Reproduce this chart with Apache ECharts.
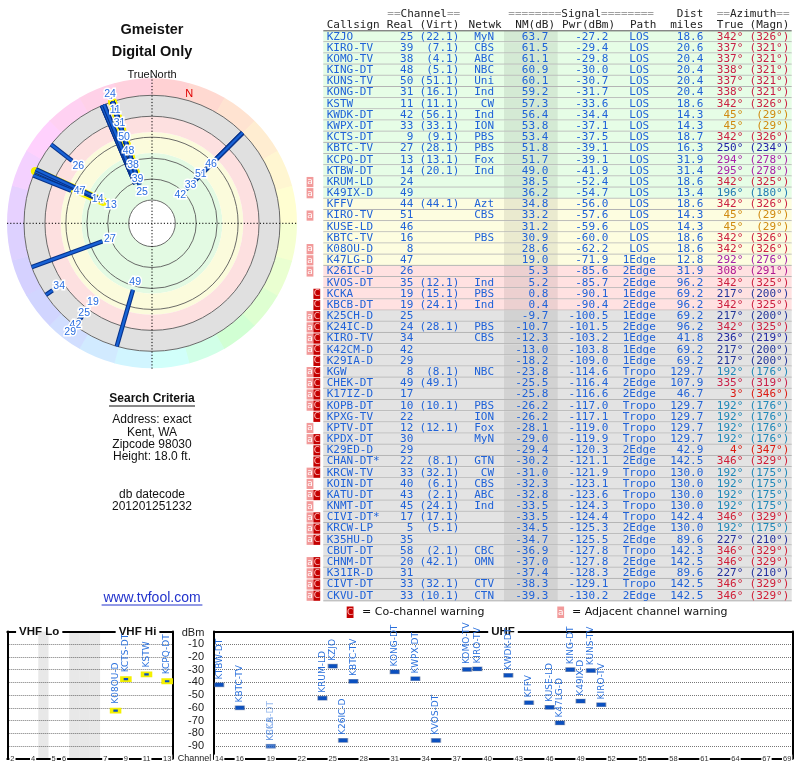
<!DOCTYPE html>
<html><head><meta charset="utf-8">
<script src="https://cdn.jsdelivr.net/npm/echarts/dist/echarts.min.js"></script>
<style>html,body{margin:0;padding:0;background:#fff}#c{width:800px;height:768px}</style>
</head><body><div id="c"></div>
<script>
// ---------------- DATA ----------------
const callsigns = ['KZJO','KIRO-TV','KOMO-TV','KING-DT','KUNS-TV','KONG-DT','KSTW','KWDK-DT','KWPX-DT','KCTS-DT','KBTC-TV','KCPQ-DT','KTBW-DT','KRUM-LD','K49IX-D','KFFV','KIRO-TV','KUSE-LD','KBTC-TV','K08OU-D','K47LG-D','K26IC-D','KVOS-DT','KCKA','KBCB-DT','K25CH-D','K24IC-D','KIRO-TV','K42CM-D','K29IA-D','KGW','CHEK-DT','K17IZ-D','KOPB-DT','KPXG-TV','KPTV-DT','KPDX-DT','K29ED-D','CHAN-DT*','KRCW-TV','KOIN-DT','KATU-DT','KNMT-DT','CIVI-DT*','KRCW-LP','K35HU-D','CBUT-DT','CHNM-DT','K31IR-D','CIVT-DT','CKVU-DT'];
const realCh = [25,39,38,48,50,31,11,42,33,9,27,13,14,24,49,44,51,46,16,8,47,26,35,19,19,25,24,34,42,29,8,49,17,10,22,12,30,29,22,33,40,43,45,17,5,35,58,20,31,33,33];
const virtCh = ['22.1','7.1','4.1','5.1','51.1','16.1','11.1','56.1','33.1','9.1','28.1','13.1','20.1','','','44.1','','','','','','','12.1','15.1','24.1','','28.1','','','','8.1','49.1','','10.1','','12.1','','','8.1','32.1','6.1','2.1','24.1','17.1','5.1','','2.1','42.1','','32.1','10.1'];
const networks = ['MyN','CBS','ABC','NBC','Uni','Ind','CW','Ind','ION','PBS','PBS','Fox','Ind','','','Azt','CBS','','PBS','','','','Ind','PBS','Ind','','PBS','CBS','','','NBC','','','PBS','ION','Fox','MyN','','GTN','CW','CBS','ABC','Ind','','','','CBC','OMN','','CTV','CTN'];
const nmDb = [63.7,61.5,61.1,60.9,60.1,59.2,57.3,56.4,53.8,53.4,51.8,51.7,49.0,38.5,36.2,34.8,33.2,31.2,30.9,28.6,19.0,5.3,5.2,0.8,0.4,-9.7,-10.7,-12.3,-13.0,-18.2,-23.8,-25.5,-25.8,-26.2,-26.2,-28.1,-29.0,-29.4,-30.2,-31.0,-32.3,-32.8,-33.5,-33.5,-34.5,-34.7,-36.9,-37.0,-37.4,-38.3,-39.3];
const pwrDbm = [-27.2,-29.4,-29.8,-30.0,-30.7,-31.7,-33.6,-34.4,-37.1,-37.5,-39.1,-39.1,-41.9,-52.4,-54.7,-56.0,-57.6,-59.6,-60.0,-62.2,-71.9,-85.6,-85.7,-90.1,-90.4,-100.5,-101.5,-103.2,-103.8,-109.0,-114.6,-116.4,-116.6,-117.0,-117.1,-119.0,-119.9,-120.3,-121.1,-121.9,-123.1,-123.6,-124.3,-124.4,-125.3,-125.5,-127.8,-127.8,-128.3,-129.1,-130.2];
const paths = ['LOS','LOS','LOS','LOS','LOS','LOS','LOS','LOS','LOS','LOS','LOS','LOS','LOS','LOS','LOS','LOS','LOS','LOS','LOS','LOS','1Edge','2Edge','2Edge','1Edge','2Edge','1Edge','2Edge','1Edge','1Edge','1Edge','Tropo','2Edge','2Edge','Tropo','Tropo','Tropo','Tropo','2Edge','2Edge','Tropo','Tropo','Tropo','Tropo','Tropo','2Edge','2Edge','Tropo','2Edge','2Edge','Tropo','2Edge'];
const distMiles = [18.6,20.6,20.4,20.4,20.4,20.4,18.6,14.3,14.3,18.7,16.3,31.9,31.4,18.6,13.4,18.6,14.3,14.3,18.6,18.6,12.8,31.9,96.2,69.2,96.2,69.2,96.2,41.8,69.2,69.2,129.7,107.9,46.7,129.7,129.7,129.7,129.7,42.9,142.5,130.0,130.0,130.0,130.0,142.4,130.0,89.6,142.3,142.5,89.6,142.5,142.5];
const azTrue = [342,337,337,338,337,338,342,45,45,342,250,294,295,342,196,342,45,45,342,342,292,308,342,217,342,217,342,236,217,217,192,335,3,192,192,192,192,4,346,192,192,192,192,346,192,227,346,346,227,346,346];
const azMagn = [326,321,321,321,321,321,326,29,29,326,234,278,278,325,180,326,29,29,326,326,276,291,325,200,325,200,325,219,200,200,176,319,346,176,176,176,176,347,329,175,175,175,175,329,175,210,329,329,210,329,329];
const warnings = ['','','','','','','','','','','','','','a','a','','a','','','a','a','a','','c','c','ac','ac','ac','ac','c','ac','ac','ac','ac','c','a','ac','c','c','ac','a','ac','a','ac','ac','ac','','ac','ac','ac','ac'];

const vhfSlots = ['2','3','4','g1','5','6','g2','g3','g4','7','8','9','10','11','12','13'];
const vhfGapSlots = ['g1','g2','g3','g4'];
const vhfTickLabels = ['2','4','5','6','7','9','11','13'];
const uhfChannels = ['14','15','16','17','18','19','20','21','22','23','24','25','26','27','28','29','30','31','32','33','34','35','36','37','38','39','40','41','42','43','44','45','46','47','48','49','50','51','52','53','54','55','56','57','58','59','60','61','62','63','64','65','66','67','68','69'];
const uhfTickLabels = ['14','16','19','22','25','28','31','34','37','40','43','46','49','52','55','58','61','64','67','69'];
const dbmTicks = [-10,-20,-30,-40,-50,-60,-70,-80,-90];
const radiusRings = [-20,0,20,40,60,80];
const nmBands = [[80,35,'#e3fae3'],[35,15,'#fbfbdc'],[15,0,'#fde0e0'],[0,-20,'#e0e0e0']];
const magneticNorth = 16;

// ---------------- HELPERS ----------------
const MONO = '11px "DejaVu Sans Mono", monospace';
const SANS = '"Liberation Sans", Arial, sans-serif';
const BLUE = '#1f62d8';
function lerpStops(stops, a) {
  for (let k = 0; k < stops.length - 1; k++) {
    const s0 = stops[k], s1 = stops[k + 1];
    if (a >= s0[0] && a <= s1[0]) { const t = (a - s0[0]) / (s1[0] - s0[0]); return s0[1] + (s1[1] - s0[1]) * t; }
  }
  return stops[stops.length - 1][1];
}
const ringHueStops = [[0,350],[45,390],[90,425],[135,470],[180,545],[225,590],[270,620],[315,670],[360,710]];
function ringColor(az) { return 'hsl(' + Math.round(lerpStops(ringHueStops, az) % 360) + ',100%,91%)'; }
const textColorStops = [[0,'#dd1111'],[45,'#d08a10'],[192,'#1f88b8'],[217,'#23369a'],[250,'#2222a8'],[294,'#aa22aa'],[308,'#b01a90'],[335,'#c8204a'],[342,'#cc2040'],[360,'#dd1111']];
function hex2rgb(h) { return [parseInt(h.substr(1,2),16), parseInt(h.substr(3,2),16), parseInt(h.substr(5,2),16)]; }
function azColor(az) {
  for (let k = 0; k < textColorStops.length - 1; k++) {
    const s0 = textColorStops[k], s1 = textColorStops[k + 1];
    if (az >= s0[0] && az <= s1[0]) {
      const t = (az - s0[0]) / (s1[0] - s0[0]); const a = hex2rgb(s0[1]), b = hex2rgb(s1[1]);
      return 'rgb(' + a.map((v, j) => Math.round(v + (b[j] - v) * t)).join(',') + ')';
    }
  }
  return '#cc2040';
}
function angDiff(a, b) { let d = Math.abs(a - b) % 360; return d > 180 ? 360 - d : d; }
function txt(text, x, y, font, fill, align, extra) {
  return Object.assign({ type: 'text', style: Object.assign({ text: text, x: x, y: y, font: font, fill: fill,
    align: align, textAlign: align, verticalAlign: 'middle', textVerticalAlign: 'middle' }, extra || {}) });
}

const polarRows = callsigns.map((_, i) => i).filter(i => nmDb[i] > -20);
const bottomRows = callsigns.map((_, i) => i).filter(i => nmDb[i] >= 0);

// ---------------- TABLE ----------------
function renderTable(params, api) {
  const i = api.value(1);
  const c = api.coord([0, i]);
  const h = api.size([0, 1])[1];
  const yc = c[1], top = yc - h / 2;
  const x0 = params.coordSys.x;
  const nm = nmDb[i];
  let bg = '#e3e3e3';
  if (nm > 35) bg = '#e6fde6'; else if (nm > 15) bg = '#fdfde0'; else if (nm > 0) bg = '#ffe1e1';
  const ch = [
    { type: 'rect', shape: { x: x0 + 23.3, y: top, width: 468.4, height: h }, style: { fill: bg } },
    { type: 'rect', shape: { x: x0 + 204, y: top, width: 53.7, height: h }, style: { fill: 'rgba(0,0,0,0.075)' } },
    { type: 'line', shape: { x1: x0 + 23.3, y1: top + h - 0.5, x2: x0 + 491.7, y2: top + h - 0.5 }, style: { stroke: '#b4b4b4', lineWidth: 1 } },
    txt(callsigns[i], x0 + 26.7, yc, MONO, BLUE, 'left'),
    txt(String(realCh[i]), x0 + 113.3, yc, MONO, BLUE, 'right'),
    txt(virtCh[i] ? '(' + virtCh[i] + ')' : '', x0 + 159.3, yc, MONO, BLUE, 'right'),
    txt(networks[i], x0 + 194, yc, MONO, BLUE, 'right'),
    txt(nmDb[i].toFixed(1), x0 + 248.3, yc, MONO, BLUE, 'right'),
    txt(pwrDbm[i].toFixed(1), x0 + 308.3, yc, MONO, BLUE, 'right'),
    txt(paths[i], x0 + 339.3, yc, MONO, BLUE, 'center'),
    txt(distMiles[i].toFixed(1), x0 + 403.3, yc, MONO, BLUE, 'right'),
    txt(azTrue[i] + '°', x0 + 443.3, yc, MONO, azColor(azTrue[i]), 'right'),
    txt('(' + azMagn[i] + '°)', x0 + 489.3, yc, MONO, azColor(azTrue[i]), 'right')
  ];
  const w = warnings[i];
  if (w.indexOf('a') >= 0) {
    ch.push({ type: 'rect', shape: { x: x0 + 6.6, y: top + 0.5, width: 6.8, height: h - 1 }, style: { fill: '#f29a9a' } });
    ch.push(txt('a', x0 + 10, yc, '9px "DejaVu Sans"', '#fff', 'center'));
  }
  if (w.indexOf('c') >= 0) {
    ch.push({ type: 'rect', shape: { x: x0 + 13.4, y: top + 0.5, width: 6.8, height: h - 1 }, style: { fill: '#c40000' } });
    ch.push(txt('C', x0 + 16.8, yc, '9px "DejaVu Sans"', '#ffb8b8', 'center'));
  }
  return { type: 'group', children: ch };
}

// ---------------- POLAR ----------------
function radPx(api, cx, cy, nm, az) { const p = api.coord([nm, az]); return Math.hypot(p[0] - cx, p[1] - cy); }
function renderPolarBg(params, api) {
  const cx = params.coordSys.cx, cy = params.coordSys.cy;
  const ch = [];
  const rOuter = radPx(api, cx, cy, -20, 0);
  for (let k = 0; k < 24; k++) {
    const a0 = k * 15, a1 = a0 + 15;
    ch.push({ type: 'sector', shape: { cx: cx, cy: cy, r0: rOuter, r: 145, startAngle: (a0 - 90) * Math.PI / 180, endAngle: (a1 - 90) * Math.PI / 180 + 0.004, clockwise: true },
      style: { fill: ringColor(a0 + 7.5) } });
  }
  nmBands.forEach(b => {
    ch.push({ type: 'ring', shape: { cx: cx, cy: cy, r0: radPx(api, cx, cy, b[0], 0), r: radPx(api, cx, cy, b[1], 0) }, style: { fill: b[2] } });
  });
  radiusRings.forEach(v => {
    ch.push({ type: 'circle', shape: { cx: cx, cy: cy, r: radPx(api, cx, cy, v, 0) }, style: { fill: 'none', stroke: '#5a5a5a', lineWidth: 0.9 } });
  });
  ch.push({ type: 'line', shape: { x1: cx - 145, y1: cy, x2: cx + 145, y2: cy }, style: { stroke: '#000', lineWidth: 1, lineDash: [1.2, 2] } });
  ch.push({ type: 'line', shape: { x1: cx, y1: cy - 147, x2: cx, y2: cy + 146 }, style: { stroke: '#000', lineWidth: 1, lineDash: [1.2, 2] } });
  const mr = magneticNorth * Math.PI / 180;
  ch.push(txt('N', cx + 135 * Math.sin(mr), cy - 135 * Math.cos(mr), '11px ' + SANS, '#e00000', 'center'));
  return { type: 'group', children: ch };
}
function renderYellow(params, api) {
  const row = polarRows[params.dataIndex];
  if (realCh[row] > 13) return null;
  const p0 = api.coord([-20, azTrue[row]]), p1 = api.coord([nmDb[row], azTrue[row]]);
  return { type: 'line', shape: { x1: p0[0], y1: p0[1], x2: p1[0], y2: p1[1] }, style: { stroke: '#f6f200', lineWidth: 8.5, lineCap: 'round' } };
}
function renderLine(params, api) {
  const row = polarRows[params.dataIndex];
  const p0 = api.coord([-20, azTrue[row]]), p1 = api.coord([nmDb[row], azTrue[row]]);
  return { type: 'group', children: [
    { type: 'line', shape: { x1: p0[0], y1: p0[1], x2: p1[0], y2: p1[1] }, style: { stroke: '#07328a', lineWidth: 4.5 } },
    { type: 'line', shape: { x1: p0[0], y1: p0[1], x2: p1[0], y2: p1[1] }, style: { stroke: '#1862d6', lineWidth: 2.3 } }
  ] };
}
function polarLayout(api, cx, cy) {
  const groups = [];
  polarRows.forEach(i => {
    let g = groups.find(gr => angDiff(gr.az, azTrue[i]) <= 6);
    if (!g) { g = { az: azTrue[i], items: [] }; groups.push(g); }
    g.items.push(i);
  });
  const out = {};
  groups.forEach(g => {
    let prev = -Infinity;
    const rad = g.az * Math.PI / 180;
    g.items.forEach(i => {
      if (prev >= 135) return;
      const rEnd = radPx(api, cx, cy, nmDb[i], g.az);
      let r = Math.max(prev + 14.5, rEnd - 8);
      r = Math.min(r, 136);
      prev = r;
      out[i] = [cx + r * Math.sin(rad), cy - r * Math.cos(rad)];
    });
  });
  return out;
}
function renderLabel(params, api) {
  const cx = params.coordSys.cx, cy = params.coordSys.cy;
  const row = polarRows[params.dataIndex];
  const p = polarLayout(api, cx, cy)[row];
  if (!p) return null;
  return txt(String(realCh[row]), p[0], p[1], '10.5px ' + SANS, '#2a6ee0', 'center', { stroke: '#fff', lineWidth: 3 });
}

// ---------------- BOTTOM SCATTER ----------------
function stationItem(i, slots) {
  const faded = nmDb[i] < 1;
  return { name: callsigns[i], value: [slots.indexOf(String(realCh[i])), pwrDbm[i]],
    itemStyle: { opacity: faded ? 0.5 : 1 }, label: { opacity: faded ? 0.5 : 1 } };
}
const vhfData = bottomRows.filter(i => realCh[i] <= 13).map(i => stationItem(i, vhfSlots));
const uhfData = bottomRows.filter(i => realCh[i] >= 14).map(i => stationItem(i, uhfChannels));
const stationLabel = { show: true, formatter: '{b}', position: 'top', distance: 3, rotate: 90, align: 'left', verticalAlign: 'middle',
  fontSize: 9, color: '#2a70dc', fontFamily: '"DejaVu Sans", sans-serif' };

function bottomX(grid, data, tickList, pos) {
  const base = { gridIndex: grid, type: 'category', data: data, position: pos,
    axisLine: { show: true, onZero: false, lineStyle: { color: '#000', width: 2 } }, axisTick: { show: false }, splitLine: { show: false } };
  if (pos === 'bottom') {
    base.axisLabel = { show: true, interval: (idx, val) => tickList.indexOf(val) >= 0, margin: -4, fontSize: 7.5, color: '#333',
      backgroundColor: '#fff', padding: [0, 1], fontFamily: SANS };
  } else base.axisLabel = { show: false };
  return base;
}
function bottomY(grid, pos, labels) {
  return { gridIndex: grid, type: 'value', min: -100, max: 0, interval: 10, position: pos,
    axisLine: { show: true, onZero: false, lineStyle: { color: '#000', width: 2 } }, axisTick: { show: false },
    splitLine: { show: pos === 'left', lineStyle: { color: '#777', type: 'dotted', width: 1 } },
    axisLabel: labels ? { show: true, margin: 10, fontSize: 11, color: '#222', fontFamily: SANS,
      formatter: v => (dbmTicks.indexOf(v) >= 0 ? String(v) : '') } : { show: false } };
}

const hdrRich = { g: { fill: '#a0a0a0', font: MONO }, w: { fill: '#222', font: MONO } };
function hdr(text, x, y, align) {
  return { type: 'text', z: 5, style: { text: text, x: x, y: y, font: MONO, fill: '#222', rich: hdrRich, align: align, textAlign: align, verticalAlign: 'middle', textVerticalAlign: 'middle' } };
}
function gtext(text, x, y, font, fill, align, extra) { const t = txt(text, x, y, font, fill, align, extra); t.z = 5; return t; }

const graphics = [
  gtext('Gmeister', 152, 30, 'bold 14.5px ' + SANS, '#111', 'center'),
  gtext('Digital Only', 152, 52, 'bold 14.5px ' + SANS, '#111', 'center'),
  gtext('TrueNorth', 152, 74.5, '11px ' + SANS, '#111', 'center'),
  gtext('Search Criteria', 152, 398.5, 'bold 12px ' + SANS, '#111', 'center'),
  { type: 'line', z: 5, shape: { x1: 109, y1: 406, x2: 195, y2: 406 }, style: { stroke: '#111', lineWidth: 1 } },
  gtext('Address: exact', 152, 420, '12px ' + SANS, '#111', 'center'),
  gtext('Kent, WA', 152, 432.5, '12px ' + SANS, '#111', 'center'),
  gtext('Zipcode 98030', 152, 444.5, '12px ' + SANS, '#111', 'center'),
  gtext('Height: 18.0 ft.', 152, 456.7, '12px ' + SANS, '#111', 'center'),
  gtext('db datecode', 152, 494.3, '12px ' + SANS, '#111', 'center'),
  gtext('201201251232', 152, 506.3, '12px ' + SANS, '#111', 'center'),
  gtext('www.tvfool.com', 152, 598.3, '14px ' + SANS, '#2233cc', 'center'),
  { type: 'line', z: 5, shape: { x1: 101.6, y1: 605, x2: 202.4, y2: 605 }, style: { stroke: '#2233cc', lineWidth: 1 } },
  hdr('{g|==}{w|Channel}{g|==}', 387.3, 14.5, 'left'),
  hdr('{g|========}{w|Signal}{g|========}', 508.3, 14.5, 'left'),
  hdr('{w|Dist}', 703.3, 14.5, 'right'),
  hdr('{g|==}{w|Azimuth}{g|==}', 716.7, 14.5, 'left'),
  hdr('{w|Callsign}', 326.7, 25.5, 'left'),
  hdr('{w|Real}', 413.3, 25.5, 'right'),
  hdr('{w|(Virt)}', 459.3, 25.5, 'right'),
  hdr('{w|Netwk}', 501.7, 25.5, 'right'),
  hdr('{w|NM(dB)}', 555, 25.5, 'right'),
  hdr('{w|Pwr(dBm)}', 615, 25.5, 'right'),
  hdr('{w|Path}', 630, 25.5, 'left'),
  hdr('{w|miles}', 703.3, 25.5, 'right'),
  hdr('{w|True}', 743.3, 25.5, 'right'),
  hdr('{w|(Magn)}', 789.3, 25.5, 'right'),
  { type: 'line', z: 5, shape: { x1: 323.3, y1: 30.8, x2: 791.7, y2: 30.8 }, style: { stroke: '#555', lineWidth: 1 } },
  { type: 'rect', z: 5, shape: { x: 346.7, y: 606.5, width: 6.8, height: 11.5 }, style: { fill: '#c40000' } },
  gtext('C', 350.1, 612.3, '9px "DejaVu Sans"', '#ffb8b8', 'center'),
  gtext('= Co-channel warning', 362, 612.5, '11px "DejaVu Sans"', '#111', 'left'),
  { type: 'rect', z: 5, shape: { x: 557.3, y: 606.5, width: 6.8, height: 11.5 }, style: { fill: '#f29a9a' } },
  gtext('a', 560.7, 612.3, '9px "DejaVu Sans"', '#fff', 'center'),
  gtext('= Adjacent channel warning', 572, 612.5, '11px "DejaVu Sans"', '#111', 'left'),
  { type: 'text', z: 1, style: { text: 'VHF Lo', x: 39.2, y: 631.7, font: 'bold 11.5px ' + SANS, fill: '#111', align: 'center', textAlign: 'center', verticalAlign: 'middle', textVerticalAlign: 'middle', backgroundColor: '#fff', padding: [0, 3] } },
  { type: 'text', z: 1, style: { text: 'VHF Hi', x: 137.5, y: 631.7, font: 'bold 11.5px ' + SANS, fill: '#111', align: 'center', textAlign: 'center', verticalAlign: 'middle', textVerticalAlign: 'middle', backgroundColor: '#fff', padding: [0, 3] } },
  { type: 'text', z: 1, style: { text: 'UHF', x: 503, y: 631.7, font: 'bold 11.5px ' + SANS, fill: '#111', align: 'center', textAlign: 'center', verticalAlign: 'middle', textVerticalAlign: 'middle', backgroundColor: '#fff', padding: [0, 3] } },
  gtext('dBm', 193, 632.5, '11px ' + SANS, '#222', 'center'),
  gtext('Channel', 194.5, 759, '9px ' + SANS, '#222', 'center')
];

const option = {
  animation: false,
  textStyle: { fontFamily: SANS },
  polar: { center: [152, 223.3], radius: [23.3, 128] },
  angleAxis: { type: 'value', min: 0, max: 360, startAngle: 90, clockwise: true,
    axisLine: { show: false }, axisTick: { show: false }, axisLabel: { show: false }, splitLine: { show: false } },
  radiusAxis: { type: 'value', min: -20, max: 80, interval: 20, inverse: true,
    axisLine: { show: false }, axisTick: { show: false }, axisLabel: { show: false }, splitLine: { show: false } },
  grid: [
    { left: 300, top: 31.1, width: 492, height: 570.2, containLabel: false, outerBoundsMode: 'none' },
    { left: 7.3, top: 631.6, width: 165, height: 127, containLabel: false, outerBoundsMode: 'none' },
    { left: 214, top: 631.6, width: 578.3, height: 127, containLabel: false, outerBoundsMode: 'none' }
  ],
  xAxis: [
    { gridIndex: 0, type: 'value', min: 0, max: 1, show: false },
    bottomX(1, vhfSlots, vhfTickLabels, 'bottom'),
    bottomX(1, vhfSlots, vhfTickLabels, 'top'),
    bottomX(2, uhfChannels, uhfTickLabels, 'bottom'),
    bottomX(2, uhfChannels, uhfTickLabels, 'top')
  ],
  yAxis: [
    { gridIndex: 0, type: 'category', data: callsigns.map((_, i) => 'r' + i), inverse: true, show: false },
    bottomY(1, 'left', false),
    bottomY(1, 'right', false),
    bottomY(2, 'left', true),
    bottomY(2, 'right', false)
  ],
  graphic: graphics,
  series: [
    { type: 'custom', xAxisIndex: 0, yAxisIndex: 0, data: callsigns.map((_, i) => [0.5, i]), renderItem: renderTable, silent: true, clip: false, z: 2 },
    { type: 'custom', xAxisIndex: 1, yAxisIndex: 1, data: vhfGapSlots.map(g => [vhfSlots.indexOf(g), 0]), silent: true, clip: false, z: 1,
      renderItem: (p, api) => { const x = api.value(0); const a = api.coord([x, 0]); const b = api.coord([x, -100]); const w = api.size([1, 0])[0];
        return { type: 'rect', shape: { x: a[0] - w / 2, y: a[1], width: w, height: b[1] - a[1] }, style: { fill: 'rgba(0,0,0,0.09)' } }; } },
    { type: 'scatter', xAxisIndex: 1, yAxisIndex: 1, data: vhfData, symbol: 'rect', symbolSize: [8, 4], z: 3, silent: true,
      itemStyle: { color: '#0a50c0', borderColor: '#f4f000', borderWidth: 2.5 }, label: Object.assign({}, stationLabel, { distance: 4 }), labelLayout: { hideOverlap: false } },
    { type: 'scatter', xAxisIndex: 3, yAxisIndex: 3, data: uhfData, symbol: 'rect', symbolSize: [9, 4], z: 3, silent: true,
      itemStyle: { color: '#0a50c0', borderColor: 'rgba(80,100,140,0.45)', borderWidth: 1 }, label: stationLabel, labelLayout: { hideOverlap: false } },
    { type: 'custom', coordinateSystem: 'polar', data: [[0, 0]], renderItem: renderPolarBg, silent: true, clip: false, z: 1 },
    { type: 'custom', coordinateSystem: 'polar', data: polarRows.map(i => [nmDb[i], azTrue[i]]), renderItem: renderYellow, silent: true, clip: false, z: 2 },
    { type: 'custom', coordinateSystem: 'polar', data: polarRows.map(i => [nmDb[i], azTrue[i]]), renderItem: renderLine, silent: true, clip: false, z: 3 },
    { type: 'custom', coordinateSystem: 'polar', data: polarRows.map(i => [nmDb[i], azTrue[i]]), renderItem: renderLabel, silent: true, clip: false, z: 4 }
  ]
};
const chart = echarts.init(document.getElementById('c'), null, { renderer: 'canvas' });
chart.setOption(option);
</script>
</body></html>
